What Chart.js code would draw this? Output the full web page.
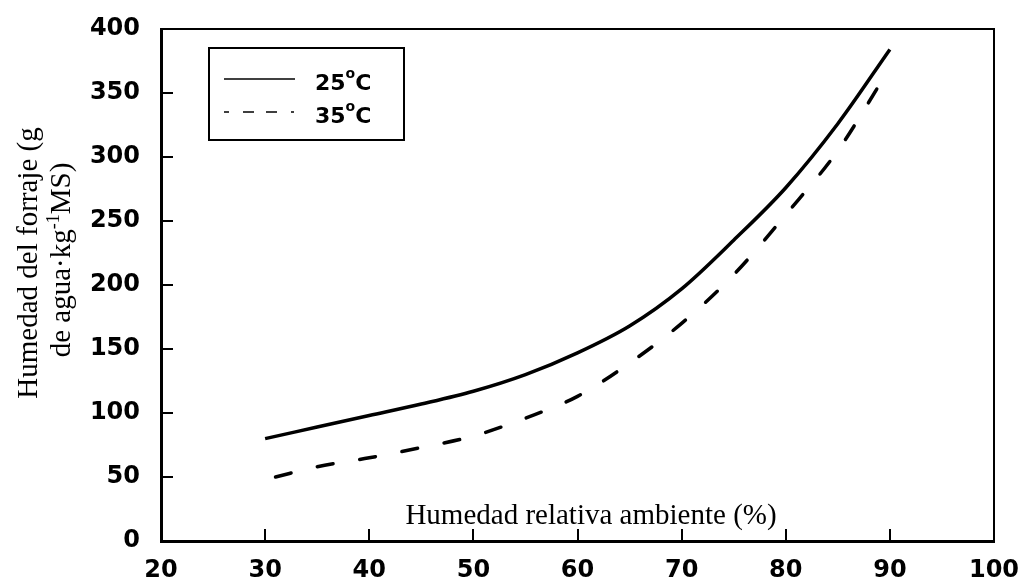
<!DOCTYPE html>
<html>
<head>
<meta charset="utf-8">
<script src="https://cdn.jsdelivr.net/npm/chart.js@4.4.1/dist/chart.umd.min.js"></script>
<style>
  html, body { margin: 0; padding: 0; background: #fff; }
  #chart { display: block; }
</style>
</head>
<body>
<canvas id="chart" width="1026" height="582"></canvas>
<script>
// values
const seriesLabels = ['25°C', '35°C'];
const hr25 = [30, 35, 40, 45, 50, 55, 60, 65, 70, 75, 80, 85, 90];
const hum25 = [80, 89, 98, 107, 117, 130, 147, 168, 197, 235, 276, 326, 384];
const hr35 = [31, 35, 40, 45, 50, 55, 60, 65, 70, 75, 80, 85, 89.5];
const hum35 = [50, 58, 65, 73, 82, 96, 113, 139, 170, 208, 255, 305, 363];
const xTicks = [20, 30, 40, 50, 60, 70, 80, 90, 100];
const yTicks = [0, 50, 100, 150, 200, 250, 300, 350, 400];
const xTitle = 'Humedad relativa ambiente (%)';
const yTitle1 = 'Humedad del forraje (g';
const yTitle2 = ['de agua·kg', '-1', 'MS)']; // middle part is a superscript

const toPts = (xs, ys) => xs.map((x, i) => ({x, y: ys[i]}));
const tickFont = {family: 'DejaVu Sans', weight: 'bold', size: 24};
const noPad = s => { s.paddingLeft = s.paddingRight = s.paddingTop = s.paddingBottom = 0; };

// white background, frame, axis titles, boxed legend
const decor = {
  id: 'decor',
  beforeDraw(chart) {
    const c = chart.ctx;
    c.save();
    c.fillStyle = '#fff';
    c.fillRect(0, 0, chart.width, chart.height);
    c.restore();
  },
  afterDraw(chart) {
    const c = chart.ctx, a = chart.chartArea;
    c.save();
    c.strokeStyle = '#000';
    c.lineWidth = 2;
    c.beginPath();
    c.moveTo(a.left, a.top); c.lineTo(a.right, a.top); c.lineTo(a.right, a.bottom);
    c.stroke();

    // x title sits inside the plot, above the axis
    c.fillStyle = '#000';
    c.font = '29px "Liberation Serif"';
    c.textAlign = 'center';
    c.textBaseline = 'alphabetic';
    c.fillText(xTitle, 591, 524);

    // y title, two rotated lines
    c.save();
    c.translate(37, 263);
    c.rotate(-Math.PI / 2);
    c.fillText(yTitle1, 0, 0);
    c.restore();

    c.save();
    c.translate(70, 260);
    c.rotate(-Math.PI / 2);
    c.textAlign = 'left';
    c.font = '29px "Liberation Serif"';
    const w0 = c.measureText(yTitle2[0]).width, w2 = c.measureText(yTitle2[2]).width;
    c.font = '18px "Liberation Serif"';
    const w1 = c.measureText(yTitle2[1]).width;
    let x = -(w0 + w1 + w2) / 2;
    c.font = '29px "Liberation Serif"';
    c.fillText(yTitle2[0], x, 0); x += w0;
    c.font = '18px "Liberation Serif"';
    c.fillText(yTitle2[1], x, -11); x += w1;
    c.font = '29px "Liberation Serif"';
    c.fillText(yTitle2[2], x, 0);
    c.restore();

    // legend box
    c.lineWidth = 2;
    c.strokeRect(209, 48, 195, 92);
    const rows = [79, 112];
    chart.data.datasets.forEach((ds, i) => {
      c.lineWidth = 1.6;
      c.setLineDash(i === 0 ? [] : [5, 14, 11, 12, 11, 14, 3]);
      c.beginPath();
      c.moveTo(224, rows[i]); c.lineTo(295, rows[i]);
      c.stroke();
      c.setLineDash([]);
      const parts = ds.label.split('°');
      c.textAlign = 'left';
      c.textBaseline = 'middle';
      c.font = 'bold 22px "DejaVu Sans"';
      let lx = 315;
      c.fillText(parts[0], lx, rows[i] + 5); lx += c.measureText(parts[0]).width;
      c.font = 'bold 14px "DejaVu Sans"';
      c.fillText('o', lx, rows[i] - 5); lx += c.measureText('o').width;
      c.font = 'bold 22px "DejaVu Sans"';
      c.fillText(parts[1], lx, rows[i] + 5);
    });
    c.restore();
  }
};

new Chart(document.getElementById('chart'), {
  type: 'line',
  data: {
    datasets: [
      {label: seriesLabels[0], data: toPts(hr25, hum25), borderColor: '#000', borderWidth: 3.5,
       pointRadius: 0, cubicInterpolationMode: 'monotone', fill: false},
      {label: seriesLabels[1], data: toPts(hr35, hum35), borderColor: '#000', borderWidth: 3.5,
       borderDash: [16, 27], borderCapStyle: 'round',
       pointRadius: 0, cubicInterpolationMode: 'monotone', fill: false}
    ]
  },
  options: {
    responsive: false,
    animation: false,
    layout: {padding: {top: 29, right: 32, left: 0, bottom: 0}},
    plugins: {legend: {display: false}, tooltip: {enabled: false}},
    scales: {
      x: {
        type: 'linear', min: 20, max: 100,
        afterBuildTicks: s => { s.ticks = xTicks.map(v => ({value: v})); },
        afterFit: s => { s.height = 41; noPad(s); },
        ticks: {font: tickFont, color: '#000', padding: 27, maxRotation: 0},
        grid: {drawOnChartArea: false, tickLength: -12, color: '#000', lineWidth: 2},
        border: {display: true, color: '#000', width: 3}
      },
      y: {
        type: 'linear', min: 0, max: 400,
        afterBuildTicks: s => { s.ticks = yTicks.map(v => ({value: v})); },
        afterFit: s => { s.width = 161; noPad(s); },
        ticks: {font: tickFont, color: '#000', padding: 33},
        grid: {drawOnChartArea: false, tickLength: -12, color: '#000', lineWidth: 2},
        border: {display: true, color: '#000', width: 3}
      }
    }
  },
  plugins: [decor]
});
</script>
</body>
</html>
